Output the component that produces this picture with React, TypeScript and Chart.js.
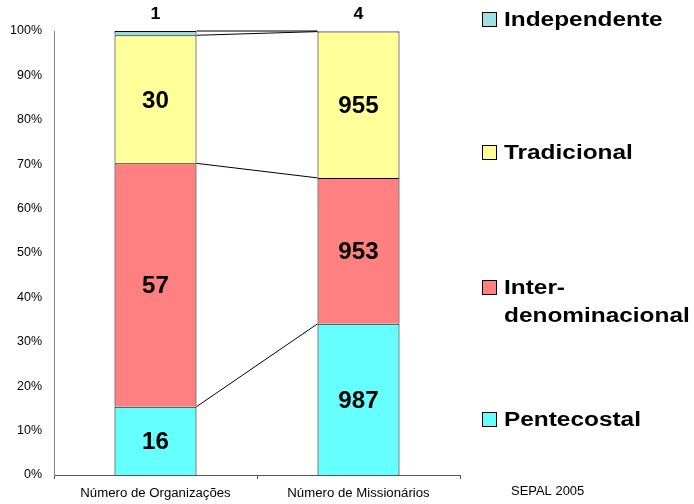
import React, { useEffect, useRef } from "react";
import { Chart, registerables } from "chart.js";

Chart.register(...registerables);

const categories = ["Número de Organizações", "Número de Missionários"];
const seriesNames = ["Pentecostal", "Inter-denominacional", "Tradicional", "Independente"];
const pentecostal = [16, 987];
const interdenominacional = [57, 953];
const tradicional = [30, 955];
const independente = [1, 4];
const yTicks = [0, 10, 20, 30, 40, 50, 60, 70, 80, 90, 100];
const sourceNote = "SEPAL 2005";

const colors = ["#66FFFF", "#FF8080", "#FFFF99", "#99DDDD"];
const legendColors = ["#66FFFF", "#FF8080", "#FFFF99", "#A0E0E0"];
const FONT = "'Liberation Sans', Arial, Helvetica, sans-serif";

const allSeries = [pentecostal, interdenominacional, tradicional, independente];
const totals = categories.map((_, i) => allSeries.reduce((s, a) => s + a[i], 0));
const pct = (arr: number[]) => arr.map((v, i) => (v / totals[i]) * 100);

function txt(ctx: any, t: string, x: number, y: number, font: string, align: string, sx: number) {
  ctx.save();
  ctx.translate(x, y);
  ctx.scale(sx, 1);
  ctx.font = font;
  ctx.textAlign = align;
  ctx.textBaseline = "middle";
  ctx.fillStyle = "#000";
  ctx.fillText(t, 0, 0);
  ctx.restore();
}

const overlay = {
  id: "overlay",
  afterDraw(chart: any) {
    const ctx = chart.ctx;
    const xs = chart.scales.x;
    const ys = chart.scales.y;
    ctx.save();
    // axis labels
    yTicks.forEach((v) => {
      txt(ctx, v + "%", 42, ys.getPixelForValue(v), `12px ${FONT}`, "right", 1.04);
    });
    categories.forEach((c, i) => {
      txt(ctx, c, xs.getPixelForValue(i), 494, `12px ${FONT}`, "center", 1.1);
    });
    // series lines
    ctx.strokeStyle = "#000";
    ctx.lineWidth = 1;
    chart.data.datasets.forEach((_: any, di: number) => {
      const meta = chart.getDatasetMeta(di);
      const a = meta.data[0];
      const b = meta.data[1];
      ctx.beginPath();
      ctx.moveTo(a.x + a.width / 2, a.y);
      ctx.lineTo(b.x - b.width / 2, b.y);
      ctx.stroke();
    });
    // value labels
    chart.data.datasets.forEach((_: any, di: number) => {
      const meta = chart.getDatasetMeta(di);
      meta.data.forEach((el: any, i: number) => {
        const raw = allSeries[di][i];
        if (di === 3) {
          txt(ctx, String(raw), el.x, 14, `bold 17px ${FONT}`, "center", 1.05);
        } else {
          txt(ctx, String(raw), el.x, (el.y + el.base) / 2 + 2, `bold 23px ${FONT}`, "center", 1.05);
        }
      });
    });
    // legend
    const items = [
      { idx: 3, lines: ["Independente"], y: 19 },
      { idx: 2, lines: ["Tradicional"], y: 152 },
      { idx: 1, lines: ["Inter-", "denominacional"], y: 287 },
      { idx: 0, lines: ["Pentecostal"], y: 419 },
    ];
    items.forEach((it) => {
      ctx.fillStyle = legendColors[it.idx];
      ctx.fillRect(482, it.y - 7, 14, 14);
      ctx.strokeStyle = "#000";
      ctx.lineWidth = 1;
      ctx.strokeRect(482.5, it.y - 6.5, 14, 14);
      it.lines.forEach((t, li) => txt(ctx, t, 504, it.y + 1 + li * 28, `bold 20px ${FONT}`, "left", 1.22));
    });
    txt(ctx, sourceNote, 511, 492, `12px ${FONT}`, "left", 1.08);
    ctx.restore();
  },
};

export default function App() {
  const ref = useRef<HTMLCanvasElement>(null);
  useEffect(() => {
    if (!ref.current) return;
    const chart = new Chart(ref.current, {
      type: "bar",
      data: {
        labels: categories,
        datasets: allSeries.map((s, i) => ({
          label: seriesNames[i],
          data: pct(s),
          backgroundColor: colors[i],
          borderColor: "#000",
          borderWidth: 1,
          barPercentage: 0.404,
          categoryPercentage: 1,
        })),
      },
      options: {
        responsive: false,
        animation: false,
        layout: { padding: { top: 31, right: 234, left: 0, bottom: 0 } },
        plugins: { legend: { display: false }, tooltip: { enabled: false } },
        scales: {
          x: {
            stacked: true,
            offset: true,
            grid: { display: true, drawOnChartArea: false, offset: true, tickLength: 4, color: "#555" },
            border: { display: true, color: "#555" },
            ticks: { display: false },
            afterFit: (s: any) => { s.height = 29; },
          },
          y: {
            stacked: true,
            min: 0,
            max: 100,
            afterBuildTicks: (s: any) => { s.ticks = yTicks.map((v) => ({ value: v })); },
            grid: { display: false },
            border: { display: true, color: "#888" },
            ticks: { display: false },
            afterFit: (s: any) => { s.width = 54; },
          },
        },
      },
      plugins: [overlay],
    });
    return () => chart.destroy();
  }, []);
  return (
    <div style={{ position: "fixed", left: 0, top: 0, width: 694, height: 504, background: "#fff" }}>
      <canvas ref={ref} width={694} height={504} style={{ display: "block" }} />
    </div>
  );
}
